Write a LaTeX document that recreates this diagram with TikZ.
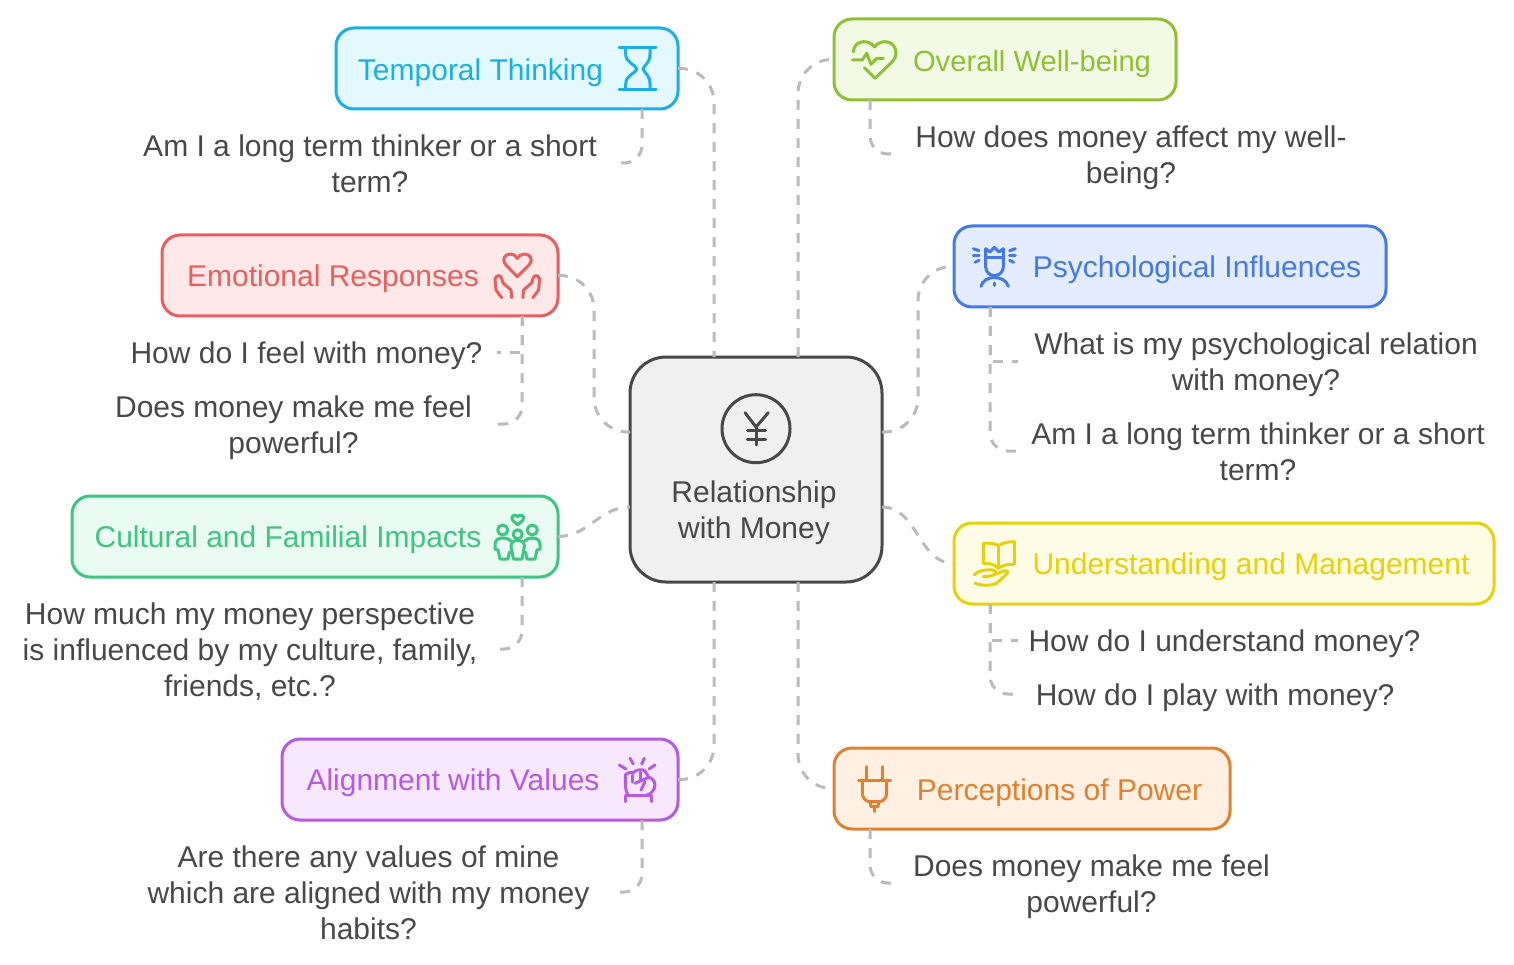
\documentclass[tikz,border=0pt]{standalone}
\usepackage{fontspec}
\setmainfont{Liberation Sans}

\definecolor{inkgray}{HTML}{484848}
\definecolor{linegray}{HTML}{BBBBBB}
\definecolor{hubfill}{HTML}{F0F0F0}
\definecolor{tempc}{HTML}{19B0E3}
\definecolor{tempf}{HTML}{E3F8FF}
\definecolor{wellc}{HTML}{8FC031}
\definecolor{wellf}{HTML}{F2FAE6}
\definecolor{psyc}{HTML}{4479E8}
\definecolor{psyf}{HTML}{E4EDFF}
\definecolor{emoc}{HTML}{E85F5F}
\definecolor{emof}{HTML}{FFE8E8}
\definecolor{culc}{HTML}{3CC583}
\definecolor{culf}{HTML}{E9FBF2}
\definecolor{undc}{HTML}{E7D20A}
\definecolor{undf}{HTML}{FEFCE4}
\definecolor{alic}{HTML}{B55AE5}
\definecolor{alif}{HTML}{F7E8FE}
\definecolor{powc}{HTML}{E0812F}
\definecolor{powf}{HTML}{FEF1E3}
\newcommand{\headstrut}{\rule{0pt}{31pt}}
\newcommand{\tailstrut}{\rule[-8pt]{0pt}{8pt}}

\begin{document}
\begin{tikzpicture}[
  x=1pt, y=-1pt,
  topic/.style 2 args={rectangle, draw=#1, fill=#2, rounded corners=18pt,
                line width=3pt, minimum height=81pt, outer sep=0pt},
  title/.style={font=\fontsize{30}{36}\selectfont, inner sep=0pt, text=#1,
                execute at begin node=\headstrut, execute at end node=\tailstrut},
  query/.style={font=\fontsize{30}{36}\selectfont, text=inkgray, align=center,
                inner sep=0pt, outer sep=0pt, minimum width=#1+32pt,
                execute at begin node=\headstrut, execute at end node=\tailstrut},
  hubbox/.style={rectangle, draw=inkgray, fill=hubfill, rounded corners=36pt,
                line width=3pt, minimum width=252pt, minimum height=225pt, outer sep=0pt},
  link/.style={draw=linegray, line width=3pt, dash pattern=on 10pt off 9pt, rounded corners=#1},
  link/.default=34pt,
  icon/.style={line width=3pt, line cap=round, line join=round},
]
  \useasboundingbox (0,0) rectangle (1514,965);

  % boxes
  \node[hubbox] (hub) at (756,469.5) {};
  \node[topic={tempc}{tempf}, minimum width=342pt] (temporal) at (507,68.5) {};
  \node[topic={wellc}{wellf}, minimum width=342pt] (overall) at (1005,59.5) {};
  \node[topic={psyc}{psyf}, minimum width=432pt] (psych) at (1170,266.5) {};
  \node[topic={emoc}{emof}, minimum width=396pt] (emotional) at (360,275.5) {};
  \node[topic={culc}{culf}, minimum width=486pt] (cultural) at (315,536.5) {};
  \node[topic={undc}{undf}, minimum width=540pt] (understanding) at (1224,563.5) {};
  \node[topic={alic}{alif}, minimum width=396pt] (alignment) at (480,779.5) {};
  \node[topic={powc}{powf}, minimum width=396pt] (power) at (1032,788.5) {};

  % titles
  \node[title=tempc] (temporaltxt) at (480.5,69) {Temporal Thinking};
  \node[title=wellc, font=\fontsize{29.2}{36}\selectfont] (overalltxt) at (1032,60) {Overall Well-being};
  \node[title=psyc] (psychtxt) at (1197,266) {Psychological Influences};
  \node[title=emoc] (emotionaltxt) at (333,275) {Emotional Responses};
  \node[title=culc] (culturaltxt) at (288,536) {Cultural and Familial Impacts};
  \node[title=undc] (understandingtxt) at (1251,563) {Understanding and Management};
  \node[title=alic] (alignmenttxt) at (453,779) {Alignment with Values};
  \node[title=powc] (powertxt) at (1059.5,789) {Perceptions of Power};
  \node[title=inkgray, align=center] (hubtxt) at (754,509) {\headstrut Relationship\\with Money};

  % questions
  \node[query=454pt] (q1) at (370,163) {\headstrut Am I a long term thinker or a short\\term?};
  \node[query=432pt] (q2) at (1131,154) {\headstrut How does money affect my well-\\being?};
  \node[query=444pt] (q3) at (1256,361) {\headstrut What is my psychological relation\\with money?};
  \node[query=448pt] (q4) at (1258,451) {\headstrut Am I a long term thinker or a short\\term?};
  \node[query=349pt] (q5) at (306.5,352) {How do I feel with money?};
  \node[query=375pt] (q6) at (293.5,424) {\headstrut Does money make me feel\\powerful?};
  \node[query=454pt] (q7) at (250,649) {\headstrut How much my money perspective\\is influenced by my culture, family,\\friends, etc.?};
  \node[query=381pt] (q8) at (1224.5,640) {How do I understand money?};
  \node[query=362pt] (q9) at (1215,694) {How do I play with money?};
  \node[query=457pt] (q10) at (368.5,892) {\headstrut Are there any values of mine\\which are aligned with my money\\habits?};
  \node[query=353pt] (q11) at (1091.5,883) {\headstrut Does money make me feel\\powerful?};

  % hub connectors
  \draw[link] (temporal.east) -| ([xshift=-42pt]hub.north);
  \draw[link] ([xshift=42pt]hub.north) |- (overall.west);
  \draw[link] (alignment.east) -| ([xshift=-42pt]hub.south);
  \draw[link] ([xshift=42pt]hub.south) |- (power.west);
  \draw[link] (emotional.east) -- ++(36,0) |- ([yshift=37.5pt]hub.west);
  \draw[link=0pt] (cultural.east) to[out=0, in=180] ([yshift=-37.5pt]hub.west);
  \draw[link] ([yshift=37.5pt]hub.east) -- ++(36,0) |- (psych.west);
  \draw[link=0pt] ([yshift=-37.5pt]hub.east) to[out=0, in=180] (understanding.west);

  % question connectors
  \draw[link=18pt] ([xshift=135pt]temporal.south) |- (q1.east);
  \draw[link=18pt] ([xshift=-135pt]overall.south) |- (q2.west);
  \draw[link=0pt] ([xshift=-180pt]psych.south) |- (q3.west);
  \draw[link=18pt] ([xshift=-180pt]psych.south) |- (q4.west);
  \draw[link=0pt] ([xshift=162pt]emotional.south) |- (q5.east);
  \draw[link=18pt] ([xshift=162pt]emotional.south) |- (q6.east);
  \draw[link=18pt] ([xshift=207pt]cultural.south) |- (q7.east);
  \draw[link=0pt] ([xshift=-234pt]understanding.south) |- (q8.west);
  \draw[link=18pt] ([xshift=-234pt]understanding.south) |- (q9.west);
  \draw[link=18pt] ([xshift=162pt]alignment.south) |- (q10.east);
  \draw[link=18pt] ([xshift=-162pt]power.south) |- (q11.west);

  % yen
  \begin{scope}[icon, draw=inkgray]
    \draw (756,428.7) circle (34);
    \draw (745,412.7) -- (756,427) -- (768.3,412.7);
    \draw (756,427) -- (756,445);
    \draw (747.3,430.7) -- (765.7,430.7);
    \draw (747.3,439.3) -- (765.7,439.3);
  \end{scope}

  % hourglass
  \begin{scope}[icon, draw=tempc]
    \draw (619,47.7) -- (656,47.7);
    \draw (619,90) -- (656,90);
    \draw (625.7,47.7) -- (625.7,54) .. controls (625.7,63) and (635,64) .. (637,69) .. controls (635,74) and (625.7,75) .. (625.7,84) -- (625.7,90);
    \draw (650,47.7) -- (650,54) .. controls (650,63) and (645,64) .. (643,69) .. controls (645,74) and (650,75) .. (650,84) -- (650,90);
  \end{scope}

  % heart and hands
  \begin{scope}[icon, draw=emoc]
    \draw (517.3,276.7) -- (506,265) .. controls (501,259) and (505,254) .. (510.7,254)
      .. controls (514,254) and (516,256) .. (517.3,258.5)
      .. controls (519,256) and (521,254) .. (524,254)
      .. controls (530,254) and (534,259) .. (529,265) -- cycle;
    \foreach \s in {1,-1} {
      \begin{scope}[shift={(517.3,0)}, xscale=\s]
        \draw (-5.6,297.7) -- (-6.3,290) -- (-14.3,283) -- (-15.5,279)
          .. controls (-16,275) and (-21,274) .. (-22.3,279) -- (-21.3,290) -- (-15.6,297.7);
      \end{scope}
    }
  \end{scope}

  % family
  \begin{scope}[icon, draw=culc]
    \draw (517.7,525) -- (512.5,520) .. controls (510,516) and (515,513.5) .. (517.7,516.5)
      .. controls (520.5,513.5) and (525.5,516) .. (523,520) -- cycle;
    \draw (502.7,530) circle (5);
    \draw (532.3,530) circle (5);
    \draw (517.7,534.3) circle (4.5);
    \draw (511,541) .. controls (508,538.5) and (506,538) .. (503,538) .. controls (498,538) and (495,540) .. (495,545)
      -- (495,549) -- (498,550) -- (500,559) -- (508,559) -- (509.5,552);
    \draw (524.5,541) .. controls (527,538.5) and (529,538) .. (532,538) .. controls (537,538) and (540,540) .. (540,545)
      -- (540,549) -- (537,550) -- (535,559) -- (527,559) -- (525.5,552);
    \draw (513.5,559) -- (512,552) -- (511,546) .. controls (511,542) and (514,540.5) .. (517.7,540.5)
      .. controls (521.4,540.5) and (524.4,542) .. (524.4,546) -- (523.4,552) -- (522,559) -- cycle;
  \end{scope}

  % fist
  \begin{scope}[icon, draw=alic]
    \draw (619.3,765) -- (626,769);
    \draw (630,758.3) -- (633.3,764);
    \draw (644.3,758.3) -- (641.7,764);
    \draw (655,765) -- (649,769);
    \draw (625,801.7) -- (625,795) -- (651.7,795) -- (651.7,801.7);
    \draw (628,795) .. controls (625,790) and (625.3,785) .. (625.3,775) .. controls (628,772) and (632,772) .. (633,773)
      .. controls (636,769) and (643,769) .. (645,771) -- (648.7,777.3) .. controls (652,778) and (655,781) .. (655,785)
      .. controls (655,790) and (650,795) .. (646.7,795);
    \draw (632.7,775) -- (632.7,782);
    \draw (640,772) -- (640,780);
    \draw (635,783.3) -- (648.7,777.3);
    \draw (645,781.7) -- (641,790);
  \end{scope}

  % pulse heart
  \begin{scope}[icon, draw=wellc]
    \draw (853.3,52) .. controls (853.5,46) and (858,41.7) .. (863.5,41.7)
      .. controls (868,41.7) and (872,43.5) .. (874.5,47)
      .. controls (877,43.5) and (881,41.7) .. (885.5,41.7)
      .. controls (892,41.7) and (896,47) .. (896,53)
      .. controls (896,58) and (893,61) .. (891,63) -- (875,78.3) -- (864.3,67.7);
    \draw (852.3,60) -- (862.3,60) -- (866.7,53.3) -- (871,64.3) -- (876.7,58.3) -- (883.3,58.3);
  \end{scope}

  % crowned head
  \begin{scope}[icon, draw=psyc]
    \draw (985.7,248.7) -- (990,252) -- (994.3,247.3) -- (999,252) -- (1003.3,248.7) -- (1003.3,267)
      .. controls (1003.3,272) and (999,275.7) .. (994.3,275.7)
      .. controls (990,275.7) and (985.7,272) .. (985.7,267) -- cycle;
    \draw (985.7,258) -- (1003.3,258);
    \draw (981,286.3) .. controls (982,281) and (988,277.5) .. (994.3,277.5)
      .. controls (1001,277.5) and (1007,281) .. (1008.3,286.3);
    \draw (994.3,283) -- (994.3,285.5);
    \draw (973.3,248.7) -- (979,250.7);
    \draw (973.3,255.7) -- (979,255.7);
    \draw (975,262.3) -- (979,260.3);
    \draw (1015.3,248.7) -- (1009.6,250.7);
    \draw (1015.3,255.7) -- (1009.6,255.7);
    \draw (1013.6,262.3) -- (1009.6,260.3);
  \end{scope}

  % book in hand
  \begin{scope}[icon, draw=undc]
    \draw (998.3,545.7) .. controls (994,543) and (989,543) .. (983.3,543.3) -- (983.3,563.3)
      .. controls (989,563) and (994,564) .. (998.3,568.3)
      .. controls (1003,565) and (1008,564) .. (1014.3,564.3) -- (1014.3,541.7)
      .. controls (1008,541.7) and (1002,543) .. (998.3,545.7) -- cycle;
    \draw (998.3,545.7) -- (998.3,568.3);
    \draw (974.3,575) .. controls (978,571) and (983,569.5) .. (992.3,570)
      .. controls (996,570.5) and (996.5,573) .. (995,574.3) .. controls (992,576) and (988,576.5) .. (983.3,576.7);
    \draw (995,574.3) -- (1005,570.7) .. controls (1007.5,570.5) and (1008.5,572) .. (1007.3,573.3)
      -- (996.7,583.3) .. controls (990,586) and (983,586) .. (975,583.3);
  \end{scope}

  % plug
  \begin{scope}[icon, draw=powc]
    \draw (866.7,766.7) -- (866.7,780);
    \draw (882.3,766.7) -- (882.3,780);
    \draw (858.3,780) -- (890.7,780);
    \draw (862.3,780) -- (862.3,793.3) .. controls (862.3,798) and (866,801.7) .. (870,801.7)
      -- (879,801.7) .. controls (883,801.7) and (886.7,798) .. (886.7,793.3) -- (886.7,780);
    \draw (870,801.7) -- (871,806.7) -- (877.7,806.7) -- (879,801.7);
    \draw (874.3,806.7) -- (874.3,811.7);
  \end{scope}
\end{tikzpicture}
\end{document}
